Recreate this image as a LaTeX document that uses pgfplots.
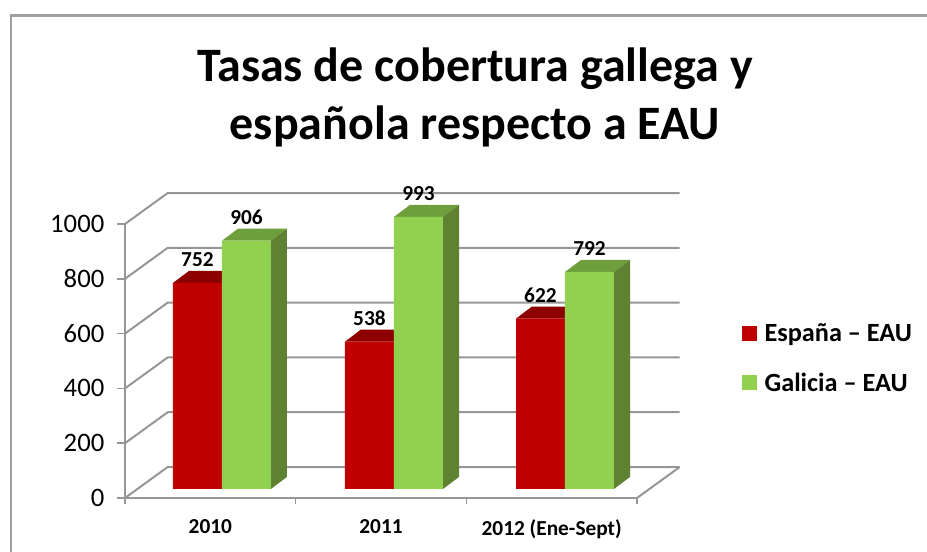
\documentclass[border=0pt]{standalone}
\usepackage{fontspec}
\setmainfont{Carlito}
\usepackage{pgfplots}
\pgfplotsset{compat=1.18}
\definecolor{cRed}{HTML}{C00000}
\definecolor{cRedTop}{HTML}{8E0000}
\definecolor{cGreen}{HTML}{92D050}
\definecolor{cGreenTop}{HTML}{6F9E3C}
\definecolor{cGreenSide}{HTML}{5E8232}
\definecolor{cGrid}{HTML}{969696}
\definecolor{cFrame}{HTML}{A0A0A0}

% top and side face of one bar: left x, value, top colour, side colour
\newcommand{\barfaces}[4]{%
  \pgfmathsetmacro\xb{#1+0.287}%
  \pgfmathsetmacro\xc{#1+0.094}%
  \pgfmathsetmacro\xd{#1+0.381}%
  \pgfmathsetmacro\vb{#2+44}%
  \addplot[forget plot,fill=#3,draw=none] coordinates {(#1,#2) (\xb,#2) (\xd,\vb) (\xc,\vb)} --cycle;
  \addplot[forget plot,fill=#4,draw=none] coordinates {(\xb,0) (\xd,44) (\xd,\vb) (\xb,#2)} --cycle;
}
% one wall line, from the front edge to the back wall
\newcommand{\wall}[1]{%
  \pgfmathsetmacro\vb{#1+113}%
  \addplot[forget plot,cGrid,line width=1.5pt,line join=round] coordinates {(0,#1) (0.25,\vb) (3.25,\vb)};
}

\begin{document}
\begin{tikzpicture}[x=0.75pt,y=0.75pt]
  \path[use as bounding box] (0,0) rectangle (927,552);
  \draw[cFrame,line width=2.2pt] (11,0) -- (11,536.5) -- (927,536.5);

  \node[align=center,font=\fontsize{36}{43.5}\selectfont\bfseries] at (475,455)
    {Tasas de cobertura gallega y\\española respecto a EAU};

  \begin{axis}[
      at={(93.75pt,40.5pt)},anchor=south west,
      scale only axis,width=384pt,height=205.5pt,
      xmin=0,xmax=3,ymin=0,ymax=1000,clip=false,
      axis x line=bottom,axis y line=left,
      axis line style={-,cGrid,line width=1.5pt},
      tick align=outside,
      xtick={0.5,1.5,2.5},
      xticklabels={2010,2011,2012 (Ene-Sept)},
      minor xtick={0,1,2,3},
      ytick={0,200,400,600,800,1000},
      major tick length=6pt,minor tick length=4.5pt,
      major x tick style={draw=none},
      minor x tick style={cGrid,line width=1.2pt},
      major y tick style={cGrid,line width=1.2pt},
      /pgf/number format/assume math mode=true,
      /pgf/number format/1000 sep={},
      x tick label style={font=\fontsize{16}{18}\selectfont\bfseries,yshift=-6.5pt},
      y tick label style={font=\fontsize{20}{24}\selectfont,xshift=-6pt},
    ]
    \wall{0}
    \wall{200}
    \wall{400}
    \wall{600}
    \wall{800}
    \wall{1000}
    \addplot[forget plot,cGrid,line width=1.5pt] coordinates {(3,0) (3.25,113)};
  \end{axis}

  \begin{axis}[
      at={(93.75pt,47.25pt)},anchor=south west,
      scale only axis,width=384pt,height=205.5pt,
      xmin=0,xmax=3,ymin=0,ymax=1000,clip=false,
      axis lines=none,
      bar width=0.287,
      legend cell align=left,
      legend style={at={(1.197,0.625)},anchor=north west,draw=none,fill=none,
        font=\fontsize{19.7}{24}\selectfont\bfseries,row sep=18pt,
        /tikz/every odd column/.append style={column sep=3.5pt}},
      legend image code/.code={\fill[#1,draw=none] (0,-5.6pt) rectangle (11.3pt,5.6pt);},
      valuelabel/.style={nodes near coords={\pgfmathprintnumber[assume math mode=true]{\pgfplotspointmeta}},
        every node near coord/.append style={font=\fontsize{16}{18}\selectfont\bfseries,
        xshift=#1,yshift=8.5pt,black}},
    ]
    \barfaces{0.281}{752}{cRedTop}{cRedTop}
    \barfaces{1.289}{538}{cRedTop}{cRedTop}
    \barfaces{2.291}{622}{cRedTop}{cRedTop}
    \addplot[ybar,bar shift=-0.1435,fill=cRed,draw=none,valuelabel=-18.4pt]
      coordinates {(0.568,752) (1.576,538) (2.578,622)};
    \addlegendentry{España – EAU}
    \barfaces{0.568}{906}{cGreenTop}{cGreenSide}
    \barfaces{1.576}{993}{cGreenTop}{cGreenSide}
    \barfaces{2.578}{792}{cGreenTop}{cGreenSide}
    \addplot[ybar,bar shift=0.1435,fill=cGreen,draw=none,valuelabel=18.4pt]
      coordinates {(0.568,906) (1.576,993) (2.578,792)};
    \addlegendentry{Galicia – EAU}
  \end{axis}
\end{tikzpicture}
\end{document}
